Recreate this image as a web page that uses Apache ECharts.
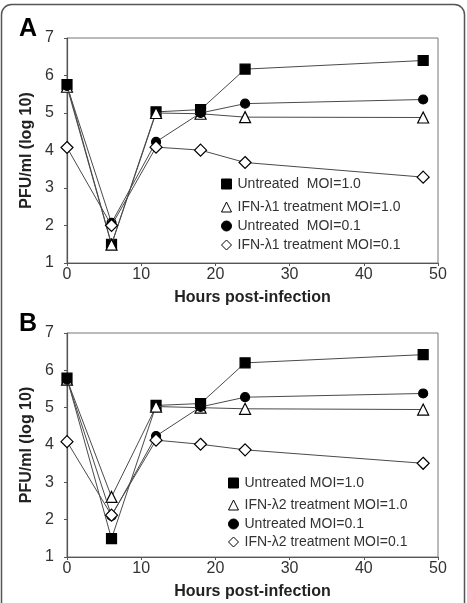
<!DOCTYPE html>
<html>
<head>
<meta charset="utf-8">
<script src="https://cdn.jsdelivr.net/npm/echarts@6/dist/echarts.min.js"></script>
<style>
  html, body { margin: 0; padding: 0; background: #fff; }
  #chart { width: 467px; height: 603px; }
</style>
</head>
<body>
<div id="chart"></div>
<script>
  // hours after infection
  var hours = [0, 6, 12, 18, 24, 48];

  // panel A (IFN-lambda1)
  var untreatedHiA = [5.76, 1.50, 5.03, 5.09, 6.17, 6.40];
  var ifnHiA = [5.70, 1.49, 5.00, 4.98, 4.89, 4.88];
  var untreatedLoA = [5.72, 2.07, 4.23, 5.00, 5.25, 5.36];
  var ifnLoA = [4.08, 2.00, 4.09, 4.01, 3.68, 3.29];

  // panel B (IFN-lambda2)
  var untreatedHiB = [5.79, 1.49, 5.06, 5.11, 6.20, 6.42];
  var ifnHiB = [5.75, 2.61, 5.03, 5.00, 4.97, 4.95];
  var untreatedLoB = [5.75, 2.10, 4.24, 5.02, 5.28, 5.38];
  var ifnLoB = [4.09, 2.12, 4.13, 4.02, 3.87, 3.51];

  var namesA = ['Untreated  MOI=1.0', 'IFN-\u03bb1 treatment MOI=1.0', 'Untreated  MOI=0.1', 'IFN-\u03bb1 treatment MOI=0.1'];
  var namesB = ['Untreated MOI=1.0', 'IFN-\u03bb2 treatment MOI=1.0', 'Untreated MOI=0.1', 'IFN-\u03bb2 treatment MOI=0.1'];

  var font = 'Liberation Sans, Arial, sans-serif';

  function pairs(ys) {
    var out = [];
    for (var i = 0; i < hours.length; i++) out.push([hours[i], ys[i]]);
    return out;
  }

  // marker look per series kind: square, open triangle, dot, open diamond
  var kinds = [
    { symbol: 'rect', size: 10, fill: '#000', icon: 'rect' },
    { symbol: 'triangle', size: 11, fill: '#fff', icon: 'triangle' },
    { symbol: 'circle', size: 9, fill: '#000', icon: 'circle' },
    { symbol: 'diamond', size: 12, fill: '#fff', icon: 'diamond' }
  ];

  function makeSeries(name, ys, k, idx) {
    return {
      name: name,
      type: 'line',
      xAxisIndex: idx,
      yAxisIndex: idx,
      data: pairs(ys),
      symbol: kinds[k].symbol,
      symbolSize: kinds[k].size,
      lineStyle: { color: '#4a4a4a', width: 1 },
      itemStyle: { color: kinds[k].fill, borderColor: '#000', borderWidth: 1.2 },
      z: 2 + k
    };
  }

  var seriesA = [untreatedHiA, ifnHiA, untreatedLoA, ifnLoA];
  var seriesB = [untreatedHiB, ifnHiB, untreatedLoB, ifnLoB];
  // draw order: square, dot, triangle, diamond
  var order = [0, 2, 1, 3];
  var series = [];
  order.forEach(function (k) { series.push(makeSeries(namesA[k], seriesA[k], k, 0)); });
  order.forEach(function (k) { series.push(makeSeries(namesB[k], seriesB[k], k, 1)); });

  var rowsA = [183, 206, 225, 244];
  var rowsB = [482, 504, 523, 541];
  var legends = [];
  function addLegends(names, rows, left) {
    for (var k = 0; k < 4; k++) {
      legends.push({
        data: [{ name: names[k], icon: kinds[k].icon }],
        left: left,
        top: rows[k] - 6,
        padding: 0,
        itemWidth: 10,
        itemHeight: 10,
        itemGap: 0,
        selectedMode: false,
        itemStyle: { borderWidth: 1 },
        textStyle: { fontFamily: font, fontSize: 14, color: '#333', padding: [0, 0, 0, 1] }
      });
    }
  }
  addLegends(namesA, rowsA, 221);
  addLegends(namesB, rowsB, 228);

  function xAxis(idx) {
    return {
      type: 'value', gridIndex: idx, min: 0, max: 50, interval: 10,
      name: 'Hours post-infection', nameLocation: 'middle', nameGap: 27,
      nameTextStyle: { fontFamily: font, fontSize: 16, fontWeight: 'bold', color: '#222' },
      axisLine: { lineStyle: { color: '#555', width: 1.2 } },
      axisTick: { length: 3, lineStyle: { color: '#555' } },
      axisLabel: { fontFamily: font, fontSize: 16, color: '#333', margin: 4 },
      splitLine: { show: false }
    };
  }
  function yAxis(idx) {
    return {
      type: 'value', gridIndex: idx, min: 1, max: 7, interval: 1,
      name: 'PFU/ml (log 10)', nameLocation: 'middle', nameGap: 30,
      nameTextStyle: { fontFamily: font, fontSize: 16, fontWeight: 'bold', color: '#222' },
      axisLine: { show: true, lineStyle: { color: '#555', width: 1.2 } },
      axisTick: { show: true, length: 3, lineStyle: { color: '#555' } },
      axisLabel: { fontFamily: font, fontSize: 16, color: '#333', margin: 13 },
      splitLine: { show: false }
    };
  }

  var chart = echarts.init(document.getElementById('chart'));
  chart.setOption({
    animation: false,
    backgroundColor: '#fff',
    graphic: [
      { type: 'rect', shape: { x: 1.5, y: 4.5, width: 463, height: 640, r: 10 },
        style: { fill: 'none', stroke: '#555', lineWidth: 1.5 } },
      { type: 'text', left: 19, top: 17,
        style: { text: 'A', fontFamily: font, fontSize: 25, fontWeight: 'bold', fill: '#000' } },
      { type: 'text', left: 19, top: 312,
        style: { text: 'B', fontFamily: font, fontSize: 25, fontWeight: 'bold', fill: '#000' } }
    ],
    legend: legends,
    grid: [
      { left: 67, top: 38, width: 371, height: 225, show: true, borderColor: '#777', borderWidth: 1 },
      { left: 67, top: 333, width: 371, height: 224, show: true, borderColor: '#777', borderWidth: 1 }
    ],
    xAxis: [xAxis(0), xAxis(1)],
    yAxis: [yAxis(0), yAxis(1)],
    series: series
  });
</script>
</body>
</html>
